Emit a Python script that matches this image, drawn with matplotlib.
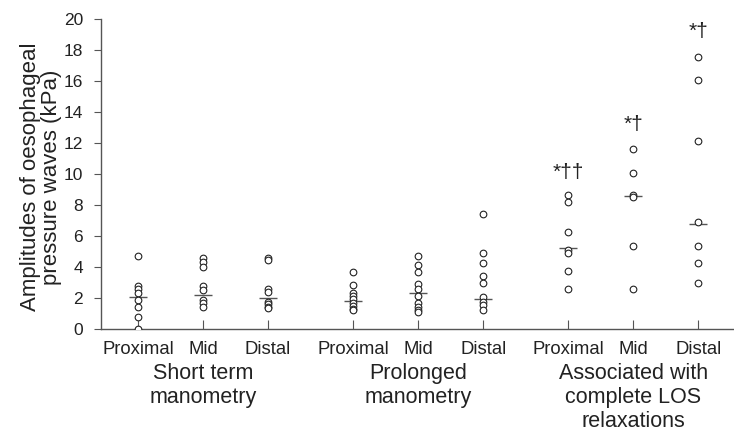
import matplotlib
matplotlib.use("Agg")
import matplotlib.pyplot as plt
import numpy as np

plt.rcParams["font.family"] = ["Liberation Sans", "DejaVu Sans"]

# === Data (kPa) ===
sites = ["Proximal", "Mid", "Distal"]
groups = ["Short term\nmanometry", "Prolonged\nmanometry",
          "Associated with\ncomplete LOS\nrelaxations"]

short_prox = [4.7, 2.8, 2.55, 2.3, 1.9, 1.45, 0.75, 0.0]
short_mid = [4.55, 4.3, 4.0, 2.75, 2.5, 1.9, 1.65, 1.45]
short_dist = [4.55, 4.45, 2.55, 2.4, 1.75, 1.6, 1.4, 1.35]
long_prox = [3.65, 2.85, 2.3, 2.15, 1.95, 1.7, 1.5, 1.3, 1.2]
long_mid = [4.7, 4.15, 3.7, 2.9, 2.6, 2.1, 1.65, 1.45, 1.25, 1.1]
long_dist = [7.45, 4.9, 4.25, 3.45, 2.95, 2.05, 1.75, 1.55, 1.25]
los_prox = [8.65, 8.2, 6.25, 5.1, 4.9, 3.75, 2.6]
los_mid = [11.6, 10.05, 8.65, 8.5, 5.35, 2.6]
los_dist = [17.55, 16.05, 12.15, 6.9, 5.35, 4.25, 2.95]

medians = [2.05, 2.2, 2.0, 1.8, 2.35, 1.95, 5.2, 8.55, 6.75]
sig_labels = {6: "*\u2020\u2020", 7: "*\u2020", 8: "*\u2020"}
sig_heights = {6: 10.1, 7: 13.2, 8: 19.2}

series = [short_prox, short_mid, short_dist,
          long_prox, long_mid, long_dist,
          los_prox, los_mid, los_dist]

# x positions: 3 sites per group, wider gap between groups
group_gap = 1.31
xpos = [g * (2 + group_gap) + s for g in range(3) for s in range(3)]

fig = plt.figure(figsize=(7.34, 4.33), dpi=100)
ax = fig.add_axes([101 / 734, 104 / 433, 633 / 734, 310 / 433])

for x, vals in zip(xpos, series):
    ax.plot([x] * len(vals), vals, linestyle="none", marker="o",
            markersize=4.8, markerfacecolor="white", markeredgecolor="#222222",
            markeredgewidth=0.8, zorder=3)

ax.plot(xpos, medians, linestyle="none", marker="_", markersize=12.5,
        markeredgewidth=1.0, color="#555555", zorder=2)

for i, lab in sig_labels.items():
    ax.text(xpos[i], sig_heights[i], lab, ha="center", va="center",
            fontsize=15, color="#222222")

ax.set_xlim(-0.57, 9.17)
ax.set_ylim(0, 20)
ax.set_yticks(np.arange(0, 21, 2))
ax.set_xticks(xpos)
ax.set_xticklabels(sites * 3)

for sp in ["top", "right"]:
    ax.spines[sp].set_visible(False)
for sp in ["left", "bottom"]:
    ax.spines[sp].set_color("#555555")
    ax.spines[sp].set_linewidth(1.0)

ax.tick_params(axis="y", direction="out", length=5, width=0.8,
               color="#555555", labelsize=12.5, pad=8, labelcolor="#222222")
ax.tick_params(axis="x", direction="in", length=6.5, width=0.8,
               color="#555555", labelsize=13.3, pad=9, labelcolor="#222222")

ax.set_ylabel("Amplitudes of oesophageal\npressure waves (kPa)",
              fontsize=16, color="#222222", linespacing=1.0)
ax.yaxis.set_label_coords(-0.061, 0.49)

for g, name in enumerate(groups):
    ax.text(xpos[3 * g + 1], -0.11, name, transform=ax.get_xaxis_transform(),
            ha="center", va="top", fontsize=15.5, linespacing=1.18,
            color="#222222")

fig.savefig("out.png", dpi=100)
